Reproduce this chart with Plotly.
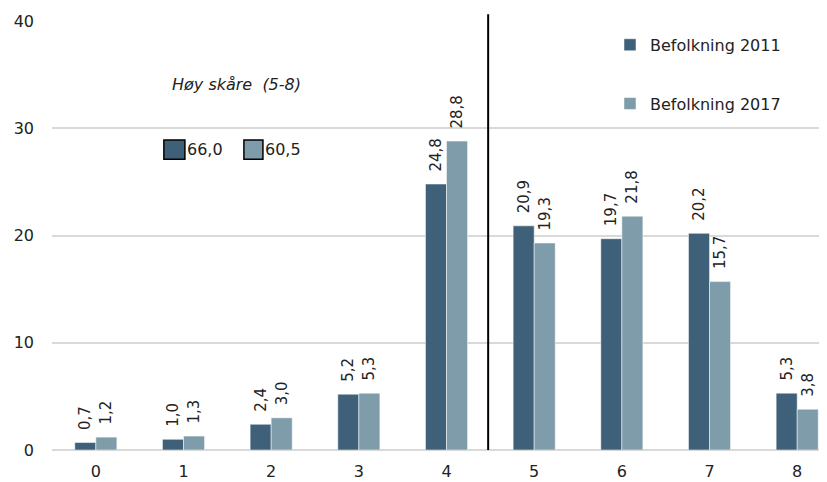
import plotly.graph_objects as go

categories = ["0", "1", "2", "3", "4", "5", "6", "7", "8"]
pop_2011 = [0.7, 1.0, 2.4, 5.2, 24.8, 20.9, 19.7, 20.2, 5.3]
pop_2017 = [1.2, 1.3, 3.0, 5.3, 28.8, 19.3, 21.8, 15.7, 3.8]
series_names = ["Befolkning 2011", "Befolkning 2017"]
high_score_label = "Høy skåre  (5-8)"
high_score_totals = [66.0, 60.5]
y_ticks = [0, 10, 20, 30, 40]

dark = "#3E6179"
light = "#7F9CAA"
txt = "#222222"
FONT = "DejaVu Sans"

x_idx = list(range(len(categories)))

fig = go.Figure()
for name, vals, col, grp in [(series_names[0], pop_2011, dark, "a"),
                             (series_names[1], pop_2017, light, "b")]:
    fig.add_trace(go.Bar(
        x=x_idx, y=vals, name=name, legendgroup=grp,
        marker=dict(color=col, line=dict(color="white", width=0.5)),
        texttemplate="\u00a0\u00a0%{y:.1f}", textposition="outside", textangle=-90,
        constraintext="none",
        outsidetextfont=dict(family=FONT, size=15, color=txt),
        cliponaxis=False,
    ))

# white block hiding gridlines behind the legend
fig.add_shape(type="rect", xref="paper", yref="y", x0=0.664, x1=1.0, y0=21, y1=41,
              fillcolor="white", line=dict(width=0), layer="between")
# divider between 4 and 5
fig.add_shape(type="line", xref="x", yref="paper", x0=4.475, x1=4.475, y0=0, y1=1.016,
              line=dict(color="black", width=2), layer="above")

# high-score annotation
fig.add_annotation(x=1.61, y=34.1, xref="x", yref="y", text="<i>" + high_score_label + "</i>",
                   showarrow=False, font=dict(family=FONT, size=16, color=txt))
box_specs = [(0.776, 1.016, dark, 1.02), (1.689, 1.906, light, 1.91)]
for (bx0, bx1, col, tx), total in zip(box_specs, high_score_totals):
    fig.add_shape(type="rect", xref="x", yref="y", x0=bx0, x1=bx1, y0=27.1, y1=28.9,
                  fillcolor=col, line=dict(color="black", width=1.5), layer="above")
    fig.add_annotation(x=tx, y=28.0, xref="x", yref="y", xanchor="left",
                       text=f"{total:.1f}".replace(".", ","), showarrow=False,
                       font=dict(family=FONT, size=16, color=txt))

fig.update_layout(
    width=827, height=482,
    margin=dict(l=44, r=8, t=13, b=40, autoexpand=False),
    paper_bgcolor="white", plot_bgcolor="white",
    separators=", ",
    barmode="group", bargap=0.52, bargroupgap=0.0,
    font=dict(family=FONT, size=16, color=txt),
    legend=dict(x=0.72, y=0.984, xanchor="left", yanchor="top",
                bgcolor="rgba(0,0,0,0)", tracegroupgap=35,
                font=dict(family=FONT, size=16, color=txt)),
    xaxis=dict(range=[-0.5, 8.34], tickmode="array", tickvals=x_idx, ticktext=categories,
               showgrid=False, zeroline=False, showline=False, ticks="", automargin=False,
               ticklabelstandoff=10,
               tickfont=dict(family=FONT, size=16, color=txt)),
    yaxis=dict(range=[0, 40], tickvals=y_ticks, showgrid=True, gridcolor="#D9D9D9",
               gridwidth=1.5, zeroline=True, zerolinecolor="#D9D9D9", zerolinewidth=2,
               showline=False, ticks="", ticklabelstandoff=17, automargin=False,
               tickfont=dict(family=FONT, size=16, color=txt)),
)

fig.write_html("out.html")
